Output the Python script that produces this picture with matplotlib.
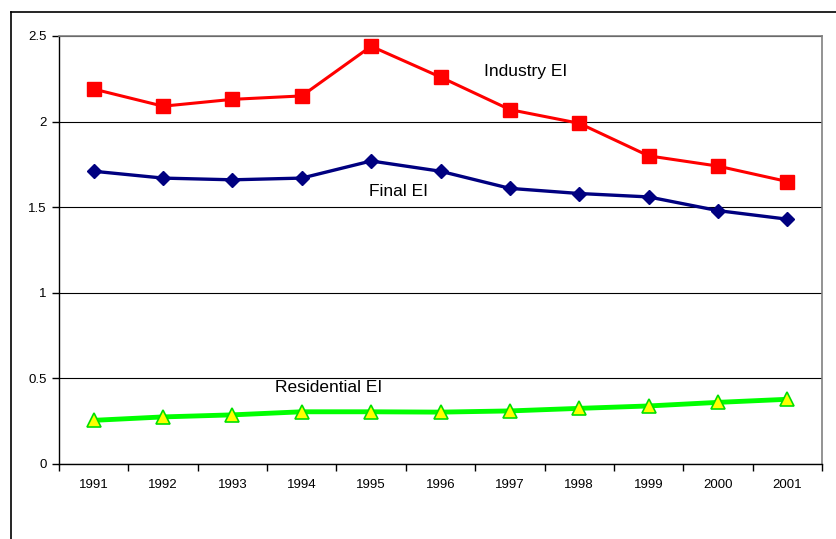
import numpy as np
import matplotlib.pyplot as plt
from matplotlib.lines import Line2D

plt.rcParams['font.family'] = ['Liberation Sans', 'DejaVu Sans']

years = ['1991', '1992', '1993', '1994', '1995', '1996', '1997', '1998', '1999', '2000', '2001']
industry_ei = [2.19, 2.09, 2.13, 2.15, 2.44, 2.26, 2.07, 1.99, 1.80, 1.74, 1.65]
final_ei = [1.71, 1.67, 1.66, 1.67, 1.77, 1.71, 1.61, 1.58, 1.56, 1.48, 1.43]
residential_ei = [0.255, 0.275, 0.287, 0.305, 0.305, 0.303, 0.31, 0.325, 0.339, 0.36, 0.378]

fig = plt.figure(figsize=(8.36, 5.39), dpi=100)
ax = fig.add_axes([59/836, 1-464/539, (822-59)/836, (464-36)/539])

x = np.arange(len(years))
ax.plot(x, industry_ei, color='#ff0000', lw=2.2, marker='s', ms=10, zorder=3)
ax.plot(x, final_ei, color='#000080', lw=2.4, marker='D', ms=7, zorder=3)
ax.plot(x, residential_ei, color='#00ff00', lw=3.5, marker='^', ms=10,
        mfc='#ffff00', mec='#00e000', mew=1.2, zorder=3)

ax.set_xlim(-0.5, len(years) - 0.5)
ax.set_ylim(0, 2.5)
ax.set_yticks([0, 0.5, 1, 1.5, 2, 2.5])
ax.set_yticklabels(['0', '0.5', '1', '1.5', '2', '2.5'], fontsize=9.5)
ax.set_xticks(x)
ax.set_xticklabels(years, fontsize=9.5)
ax.set_xticks(np.arange(-0.5, len(years)), minor=True)
ax.tick_params(axis='x', which='major', length=0, pad=11)
ax.tick_params(axis='x', which='minor', length=5, direction='out', width=1)
ax.tick_params(axis='y', length=5, direction='out', width=1, pad=4)

ax.grid(axis='y', color='#000000', lw=0.8)
ax.set_axisbelow(True)
for side in ['left', 'bottom']:
    ax.spines[side].set_color('black')
    ax.spines[side].set_linewidth(1)
for side in ['right', 'top']:
    ax.spines[side].set_color('#808080')
    ax.spines[side].set_linewidth(1.2)

ax.text(6.23, 2.29, 'Industry EI', fontsize=12.5, ha='center', va='center')
ax.text(4.39, 1.59, 'Final EI', fontsize=12.5, ha='center', va='center')
ax.text(3.38, 0.445, 'Residential EI', fontsize=12.5, ha='center', va='center')

# outer chart frame (left and top edges visible)
fig.add_artist(Line2D([11/836, 11/836], [0, 1-12/539], color='black', lw=1.2))
fig.add_artist(Line2D([11/836, 1], [1-12/539, 1-12/539], color='black', lw=1.2))

fig.savefig('out.png', dpi=100)
